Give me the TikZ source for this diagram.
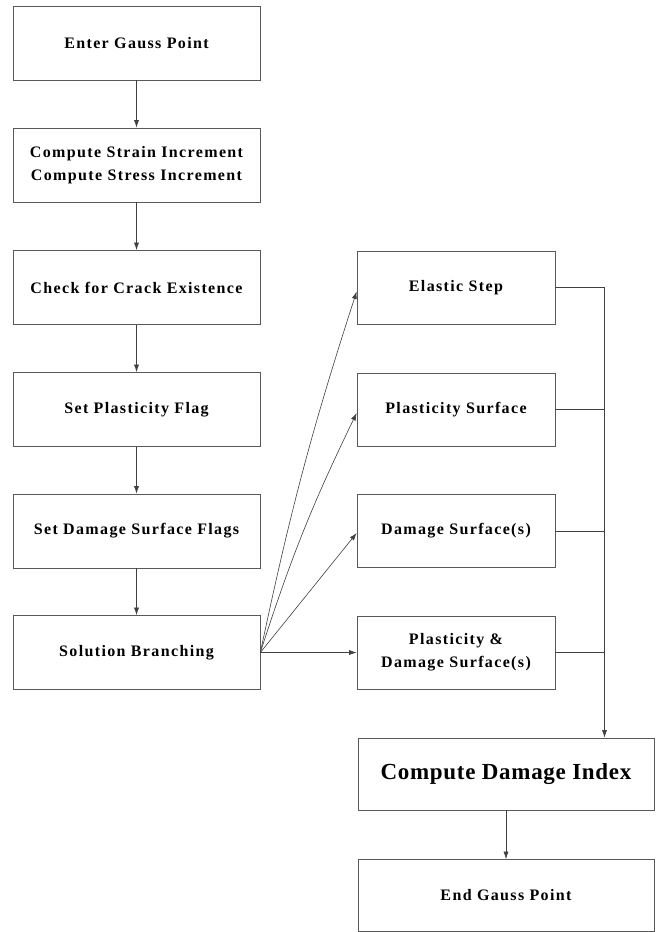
\documentclass[tikz,border=0pt]{standalone}
\usepackage{fontspec}
\setmainfont{Liberation Serif}[LetterSpace=8.5]
\usetikzlibrary{arrows.meta}
\begin{document}
\begin{tikzpicture}[x=1pt,y=1pt,
  box/.style={draw=black!65, line width=0.7pt, inner sep=0pt, align=center,
    font=\fontsize{16}{23}\selectfont\bfseries},
  lbox/.style={box, minimum width=247pt, minimum height=74pt},
  rbox/.style={box, minimum width=198pt, minimum height=73pt},
  bbox/.style={box, minimum width=296pt, minimum height=72pt},
  conn/.style={draw=black!75, line width=0.6pt},
  arr/.style={conn, -{Latex[length=7.5pt,width=5pt]}}]
\useasboundingbox (0,0) rectangle (661,-932);
\fill[white] (0,0) rectangle (661,-932);
% left column
\node[lbox] (egp) at (136.5,-43) {Enter Gauss Point};
\node[lbox] (csi) at (136.5,-165) {Compute Strain Increment\\Compute Stress Increment};
\node[lbox] (ccr) at (136.5,-287.5) {Check for Crack Existence};
\node[lbox] (spf) at (136.5,-409.5) {Set Plasticity Flag};
\node[lbox] (sdf) at (136.5,-531) {Set Damage Surface Flags};
\node[lbox] (sb) at (136.5,-652.5) {Solution Branching};
% right column
\node[rbox] (es) at (456,-287.5) {Elastic Step};
\node[rbox] (ps) at (456,-409.5) {Plasticity Surface};
\node[rbox] (ds) at (456,-531) {Damage Surface(s)};
\node[rbox] (pds) at (456,-652.5) {Plasticity \&\\Damage Surface(s)};
% bottom
\node[bbox, font=\fontsize{23}{26}\selectfont\bfseries\addfontfeature{LetterSpace=3}] (cdi) at (506,-774) {Compute Damage Index};
\node[bbox] (end) at (506,-895.5) {End Gauss Point};
% left chain
\draw[arr] (egp) -- (csi);
\draw[arr] (csi) -- (ccr);
\draw[arr] (ccr) -- (spf);
\draw[arr] (spf) -- (sdf);
\draw[arr] (sdf) -- (sb);
% branching
\draw[arr] (sb.east) to[bend left=3] ([yshift=-4pt]es.west);
\draw[arr] (sb.east) to[bend left=4] ([yshift=-3.5pt]ps.west);
\draw[arr] (sb.east) -- ([yshift=-2pt]ds.west);
\draw[arr] (sb.east) -- (pds.west);
% collector
\coordinate (bus) at (604.5,-287.5);
\draw[conn] (es.east) -- (bus);
\draw[conn] (ps.east) -- (604.5,-409.5);
\draw[conn] (ds.east) -- (604.5,-531);
\draw[conn] (pds.east) -- (604.5,-652.5);
\draw[arr] (bus) -- (bus |- cdi.north);
\draw[arr] (cdi) -- (end);
\end{tikzpicture}
\end{document}
